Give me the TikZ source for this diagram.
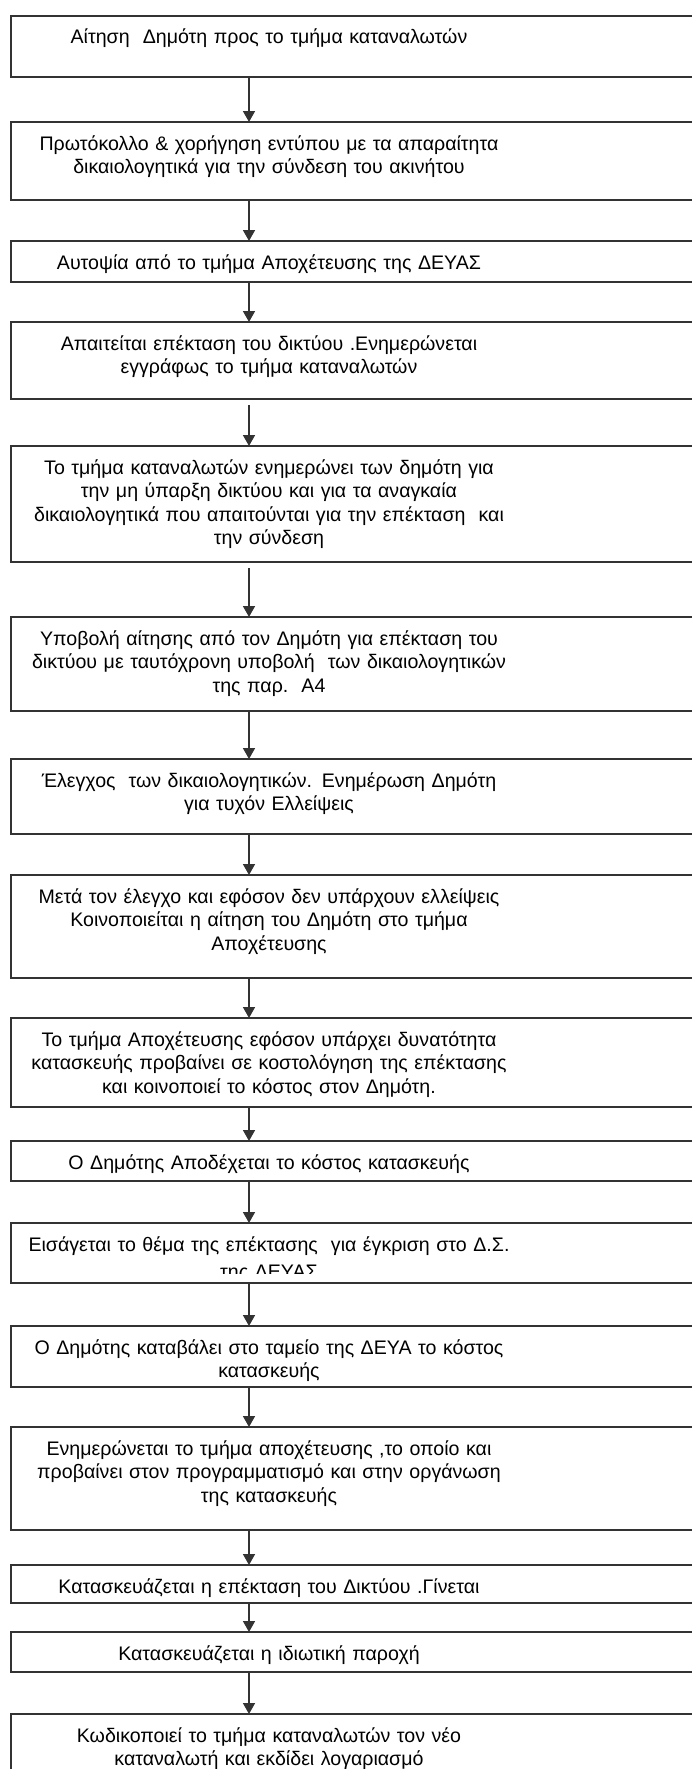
\documentclass[tikz,border=0pt]{standalone}
\usepackage{fontspec}
\setmainfont{Liberation Sans}
\usetikzlibrary{positioning,arrows.meta}
% one step of the procedure: name, top, bottom, text
\newcommand\flowbox[4]{%
\node[stepbox, minimum height={#3-#2}] (#1) at (361,{(#2+#3)/2}) {};
\node[steptext] (t#1) at (269,#2+28) {#4};
}

\begin{document}
\begin{tikzpicture}[x=1pt,y=-1pt,
	stepbox/.style={draw=black!80, line width=1.6pt, minimum width=700, inner sep=0pt, outer sep=0pt},
	steptext/.style={text width=520pt, align=center, anchor=base, inner sep=0pt, font=\fontsize{19.6}{23.5}\selectfont},
	flowarrow/.style={draw=black!80, line width=1.6pt, -{Triangle[width=12pt,length=11pt]}}]
	%% page
	\useasboundingbox (0,0) rectangle (692,1769);
	\clip (0,0) rectangle (692,1769);
	\fill[white] (0,0) rectangle (692,1769);
	
	\coordinate (ax) at (249,0); % arrow column
	
	\flowbox{b1}{16}{77}{Αίτηση\ \ Δημότη προς το τμήμα καταναλωτών}
	\flowbox{b2}{122}{200}{Πρωτόκολλο \& χορήγηση εντύπου με τα απαραίτητα\\δικαιολογητικά για την σύνδεση του ακινήτου}
	\flowbox{b3}{241}{282}{Αυτοψία από το τμήμα Αποχέτευσης της ΔΕΥΑΣ}
	\flowbox{b4}{322}{399}{Απαιτείται επέκταση του δικτύου .Ενημερώνεται\\εγγράφως το τμήμα καταναλωτών}
	\flowbox{b5}{446}{562}{Το τμήμα καταναλωτών ενημερώνει των δημότη για\\την μη ύπαρξη δικτύου και για τα αναγκαία\\δικαιολογητικά που απαιτούνται για την επέκταση\ \ και\\την σύνδεση}
	\flowbox{b6}{617}{711}{Υποβολή αίτησης από τον Δημότη για επέκταση του\\δικτύου με ταυτόχρονη υποβολή\ \ των δικαιολογητικών\\της παρ.\ \ Α4}
	\flowbox{b7}{759}{834}{Έλεγχος\ \ των δικαιολογητικών. Ενημέρωση Δημότη\\για τυχόν Ελλείψεις}
	\flowbox{b8}{875}{978}{Μετά τον έλεγχο και εφόσον δεν υπάρχουν ελλείψεις\\Κοινοποιείται η αίτηση του Δημότη στο τμήμα\\Αποχέτευσης}
	\flowbox{b9}{1018}{1107}{Το τμήμα Αποχέτευσης εφόσον υπάρχει δυνατότητα\\κατασκευής προβαίνει σε κοστολόγηση της επέκτασης\\και κοινοποιεί το κόστος στον Δημότη.}
	\flowbox{b10}{1141}{1181}{Ο Δημότης Αποδέχεται το κόστος κατασκευής}
	\begin{scope}
		\clip (0,1223) rectangle (692,1273); % text frame cuts the 2nd line
		\flowbox{b11}{1223}{1283}{Εισάγεται το θέμα της επέκτασης\ \ για έγκριση στο Δ.Σ.\\[4pt]της ΔΕΥΑΣ}
	\end{scope}
	\draw[stepbox] (b11.north west) rectangle (b11.south east);
	\flowbox{b12}{1326}{1387}{Ο Δημότης καταβάλει στο ταμείο της ΔΕΥΑ το κόστος\\κατασκευής}
	\flowbox{b13}{1427}{1530}{Ενημερώνεται το τμήμα αποχέτευσης ,το οποίο και\\προβαίνει στον προγραμματισμό και στην οργάνωση\\της κατασκευής}
	\flowbox{b14}{1565}{1603}{Κατασκευάζεται η επέκταση του Δικτύου .Γίνεται}
	\flowbox{b15}{1632}{1672}{Κατασκευάζεται η ιδιωτική παροχή}
	\flowbox{b16}{1714}{1820}{Κωδικοποιεί το τμήμα καταναλωτών τον νέο\\καταναλωτή και εκδίδει λογαριασμό}
	
	% arrows
	\foreach \a/\b in {b1/b2,b2/b3,b3/b4,b6/b7,b7/b8,b8/b9,b9/b10,b10/b11,b11/b12,b12/b13,b13/b14,b14/b15,b15/b16}
		\draw[flowarrow] (\a.south -| ax) -- (\b.north -| ax);
	\draw[flowarrow, shorten <=6pt] (b4.south -| ax) -- (b5.north -| ax);
	\draw[flowarrow, shorten <=6pt] (b5.south -| ax) -- (b6.north -| ax);
	
\end{tikzpicture}
\end{document}
